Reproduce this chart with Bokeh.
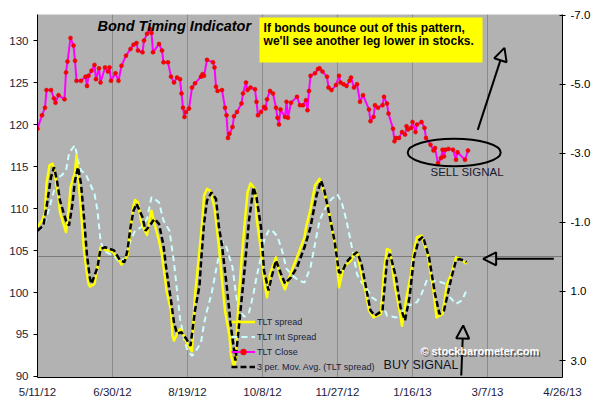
from bokeh.plotting import figure
from bokeh.models import (Range1d, LinearAxis, FixedTicker, PrintfTickFormatter, Grid,
                          Legend, LegendItem, Label, BoxAnnotation, Arrow, NormalHead)
from bokeh.embed import file_html
from bokeh.resources import INLINE

# ---------------- data ----------------
# x values are calendar days after 5/11/12
x_ticks = [0, 50, 100, 150, 200, 250, 300, 350]
x_tick_labels = ["5/11/12", "6/30/12", "8/19/12", "10/8/12", "11/27/12", "1/16/13", "3/7/13", "4/26/13"]
left_ticks = [90, 95, 100, 105, 110, 115, 120, 125, 130]
right_ticks = [-7, -5, -3, -1, 1, 3]

close_day = [0, 3, 5, 6, 9, 11, 12, 14, 18, 19, 20, 22, 24, 25, 26, 29, 32, 33, 34, 36, 38, 39, 41, 42,
             45, 47, 48, 49, 52, 54, 56, 59, 62, 64, 66, 67, 70, 71, 73, 75, 76, 77, 81, 83, 84, 87,
             89, 91, 93, 95, 96, 97, 98, 99, 101, 103, 105, 109, 110, 111, 113, 117, 118, 119, 120,
             123, 125, 126, 127, 128, 130, 131, 133, 136, 137, 139, 140, 142, 145, 146, 147, 149,
             151, 152, 153, 155, 157, 159, 160, 161, 162, 165, 166, 167, 169, 173, 175, 177, 179,
             180, 181, 182, 185, 187, 188, 190, 193, 194, 196, 199, 201, 202, 204, 206, 208, 209,
             211, 213, 215, 217, 221, 222, 224, 225, 227, 230, 231, 233, 234, 237, 238, 239, 241,
             243, 245, 246, 247, 249, 250, 252, 253, 256, 258, 259, 262, 264, 265, 267, 269, 270,
             271, 272, 274, 277, 279, 280, 285, 287]
tlt_close = [119.5, 121.1, 122.0, 124.1, 124.1, 123.1, 122.6, 123.5, 123.0, 126.2, 127.5, 130.3, 129.4,
             127.6, 125.2, 125.2, 125.7, 124.6, 125.8, 126.4, 127.1, 125.4, 126.7, 125.0, 126.8, 126.3,
             126.8, 125.2, 126.1, 125.2, 127.0, 128.2, 129.0, 129.5, 129.7, 128.8, 128.6, 130.0, 130.8,
             131.4, 130.9, 128.6, 129.6, 128.8, 127.4, 127.4, 125.7, 125.0, 125.6, 125.4, 123.7, 122.0,
             120.9, 121.5, 121.9, 124.4, 124.9, 125.7, 126.0, 125.8, 127.7, 127.4, 126.8, 124.5, 124.0,
             124.1, 122.0, 121.1, 118.4, 118.9, 119.7, 121.0, 121.5, 122.5, 123.7, 125.0, 124.1, 124.4,
             124.2, 122.7, 121.1, 121.5, 122.1, 121.9, 123.0, 124.0, 123.7, 122.0, 120.8, 120.0, 121.8,
             120.9, 122.7, 120.8, 122.6, 123.3, 122.3, 122.3, 122.9, 121.7, 124.0, 125.8, 126.1, 126.6,
             126.7, 126.3, 125.7, 124.4, 124.1, 124.7, 125.8, 125.0, 124.8, 124.6, 125.2, 125.6, 124.4,
             124.8, 122.7, 123.5, 121.8, 120.4, 120.9, 122.3, 122.0, 122.3, 123.3, 122.5, 121.3, 119.5,
             118.0, 118.4, 118.4, 119.1, 118.8, 119.8, 119.4, 119.6, 120.3, 119.1, 120.0, 120.3, 119.6,
             118.4, 117.6, 116.9, 117.2, 115.4, 116.0, 117.0, 116.2, 117.0, 117.1, 117.0, 115.8, 116.7,
             115.8, 116.9]

spread_day = [0, 3, 5, 6, 8, 10, 11, 14, 15, 18, 19, 21, 22, 25, 26, 27, 29, 31, 33, 34, 35, 38, 40, 42,
              45, 50, 53, 56, 60, 62, 64, 65, 67, 69, 71, 73, 75, 76, 78, 81, 83, 85, 86, 89, 90, 91,
              93, 95, 96, 98, 100, 102, 103, 104, 105, 108, 110, 111, 113, 115, 118, 121, 123, 125,
              128, 129, 131, 132, 134, 136, 138, 140, 142, 145, 146, 149, 151, 153, 155, 159, 162,
              165, 169, 173, 178, 179, 182, 185, 188, 189, 192, 195, 199, 201, 204, 209, 211, 213,
              215, 219, 221, 224, 229, 231, 233, 235, 238, 241, 243, 246, 249, 251, 253, 256, 260,
              264, 266, 270, 273, 276, 279, 282, 286]
tlt_spread = [-0.88, -1.05, -1.29, -2.12, -2.65, -2.70, -2.55, -1.73, -1.29, -0.86, -0.72, -1.44, -2.02,
              -2.45, -2.94, -2.41, -1.34, -0.19, 0.49, 0.78, 0.86, 0.78, 0.30, -0.28, -0.21, -0.16, 0.01,
              0.22, -0.04, -0.82, -1.49, -1.65, -1.58, -1.05, -0.81, -0.64, -1.15, -1.34, -0.96, -0.47,
              -0.04, 0.60, 0.97, 1.55, 2.28, 2.42, 2.23, 2.08, 2.13, 2.33, 2.52, 2.66, 2.73, 1.84, 1.12,
              -0.19, -1.11, -1.78, -1.97, -1.92, -1.44, -0.28, 0.68, 1.55, 2.28, 2.86, 3.17, 3.00, 1.26,
              0.10, -0.91, -1.87, -2.13, -1.97, -1.15, -0.19, 0.68, 1.17, 0.49, 0.01, 0.63, 0.94, 0.45,
              0.01, -0.57, -0.85, -1.39, -2.07, -2.26, -2.16, -1.73, -1.15, -0.19, 0.88, 0.30, 0.10,
              -0.09, -0.14, 0.30, 1.07, 1.55, 1.75, 1.65, 0.39, -0.23, -0.19, 0.78, 1.46, 1.99, 1.17,
              0.49, -0.19, -0.57, -0.62, -0.09, 0.97, 1.75, 1.65, 0.78, 0.49, 0.01, 0.06, 0.20]

int_day = [0, 4, 8, 11, 14, 16, 19, 21, 23, 25, 27, 29, 32, 35, 38, 40, 42, 44, 48, 52, 55, 59, 62, 65,
           69, 73, 76, 78, 81, 84, 88, 91, 93, 95, 98, 100, 103, 105, 109, 111, 113, 116, 120, 123,
           126, 130, 132, 134, 138, 141, 144, 146, 149, 151, 154, 156, 160, 163, 166, 170, 174, 178,
           182, 185, 188, 191, 196, 200, 203, 206, 210, 213, 215, 219, 223, 226, 230, 233, 239, 242,
           245, 250, 253, 256, 260, 264, 269, 272, 275, 279, 283, 286]
tlt_int_spread = [-0.76, -0.86, -1.44, -1.92, -2.31, -2.36, -2.50, -2.99, -3.13, -3.23, -2.79, -2.50,
                  -2.41, -2.12, -1.83, -1.34, -0.47, -0.19, -0.09, 0.01, 0.20, -0.04, -0.47, -0.76,
                  -0.86, -1.10, -1.73, -1.68, -1.58, -1.05, -0.76, 0.16, 0.97, 1.78, 2.42, 2.71, 2.86,
                  2.76, 2.48, 1.94, 1.55, 1.07, 0.16, -0.47, -0.28, 0.30, 0.97, 1.55, 1.73, 1.61, 1.06,
                  0.59, 0.01, -0.47, -0.76, -0.79, -0.59, -0.19, 0.34, 0.54, 0.68, 0.74, 0.30, -0.38,
                  -1.05, -1.34, -1.68, -1.81, -1.55, -1.05, -0.19, 0.49, 0.68, 0.88, 1.17, 1.26, 1.36,
                  1.70, 1.75, 1.70, 1.46, 1.36, 1.31, 1.07, 0.63, 0.68, 0.73, 0.78, 1.17, 1.36, 1.26,
                  0.97]

ma_day = [0, 4, 6, 9, 11, 13, 15, 19, 21, 23, 25, 27, 29, 31, 33, 35, 36, 40, 42, 45, 51, 55, 58, 60,
          62, 64, 66, 70, 72, 74, 78, 81, 84, 86, 89, 91, 93, 96, 99, 102, 105, 108, 109, 111, 113,
          116, 119, 121, 123, 126, 129, 132, 134, 136, 138, 141, 144, 146, 149, 151, 154, 156, 159,
          162, 165, 169, 173, 178, 182, 186, 189, 191, 194, 198, 201, 203, 206, 210, 213, 216, 219,
          222, 225, 230, 233, 235, 239, 242, 245, 248, 251, 254, 257, 261, 265, 268, 271, 274, 276,
          279, 281, 284, 286]
ma_spread = [-0.76, -0.91, -1.44, -2.31, -2.60, -2.21, -1.63, -1.05, -0.91, -1.44, -2.21, -2.60, -2.12,
             -1.15, -0.04, 0.63, 0.78, 0.30, -0.23, -0.28, -0.19, 0.10, 0.15, -0.19, -0.86, -1.34, -1.54,
             -1.15, -0.76, -0.86, -1.10, -0.96, -0.33, 0.39, 1.26, 1.90, 2.22, 2.18, 2.36, 2.57, 1.55,
             0.83, 0.16, -0.96, -1.63, -1.87, -1.68, -0.86, -0.33, 0.78, 2.04, 3.00, 2.13, 1.26, 0.39,
             -1.05, -2.02, -1.73, -0.86, 0.39, 0.97, 0.59, 0.10, 0.45, 0.77, 0.59, 0.30, -0.28, -0.86,
             -1.78, -2.21, -1.97, -1.34, -0.47, 0.45, 0.44, 0.15, -0.04, -0.14, 0.20, 0.88, 1.55, 1.70,
             1.55, 0.10, -0.09, 0.59, 1.46, 1.84, 1.17, 0.01, -0.47, -0.59, 0.01, 1.07, 1.65, 1.55, 0.97,
             0.59, 0.10, 0.06, 0.10, 0.15]

# ---------------- figure ----------------
FONT = "Liberation Sans"
p = figure(width=593, height=404, output_backend="svg", toolbar_location=None,
           x_range=Range1d(0, 350), y_range=Range1d(89.88, 133.1),
           min_border_left=37, min_border_right=30, min_border_top=14, min_border_bottom=27)
p.extra_y_ranges = {"spread": Range1d(start=3.49, end=-7.02)}
p.background_fill_color = "#b2b2b2"
p.border_fill_color = "white"
p.outline_line_color = None

# axes
p.xaxis.ticker = FixedTicker(ticks=x_ticks)
p.xaxis.major_label_overrides = dict(zip(x_ticks, x_tick_labels))
p.xaxis.major_tick_out = 0
p.xaxis.major_tick_in = 0
p.xaxis.minor_tick_out = 0
p.xaxis.minor_tick_in = 0
p.xaxis.major_label_standoff = 8
p.yaxis.ticker = FixedTicker(ticks=left_ticks)
p.yaxis.major_tick_out = 4
p.yaxis.major_tick_in = 0
p.yaxis.minor_tick_out = 0
p.yaxis.minor_tick_in = 0
p.yaxis.major_label_standoff = 5
for ax in (p.xaxis[0], p.yaxis[0]):
    ax.axis_line_color = "black"
    ax.major_tick_line_color = "black"
    ax.major_label_text_font = FONT
    ax.major_label_text_font_size = "11.5px"
    ax.major_label_text_color = "#1c1c3a"

raxis = LinearAxis(y_range_name="spread", ticker=FixedTicker(ticks=right_ticks),
                   formatter=PrintfTickFormatter(format="%.1f"))
raxis.major_tick_in = 3
raxis.major_tick_out = 3
raxis.minor_tick_in = 0
raxis.minor_tick_out = 0
raxis.major_label_standoff = 5
raxis.axis_line_color = "black"
raxis.major_label_text_font = FONT
raxis.major_label_text_font_size = "11.5px"
raxis.major_label_text_color = "black"
p.add_layout(raxis, "right")

# grids
p.xgrid.ticker = FixedTicker(ticks=x_ticks)
p.xgrid.grid_line_color = "#8a8a8a"
p.ygrid.visible = False
zero_grid = Grid(dimension=1, ticker=FixedTicker(ticks=[0]), y_range_name="spread",
                 grid_line_color="#7a7a7a", grid_line_width=1)
p.add_layout(zero_grid)

# ---------------- series ----------------
r_int = p.line(int_day, tlt_int_spread, y_range_name="spread", line_color="#ccffff",
               line_width=2, line_dash="6 4")
r_spread = p.line(spread_day, tlt_spread, y_range_name="spread", line_color="#ffff00",
                  line_width=2.5, line_join="round")
r_ma = p.line(ma_day, ma_spread, y_range_name="spread", line_color="black",
              line_width=2.5, line_dash="6 3")
r_close = p.line(close_day, tlt_close, line_color="#ff00ff", line_width=2)
r_close_pts = p.scatter(close_day, tlt_close, size=4, fill_color="#ff0000", line_color="#dd0000",
                        line_width=0.5)

legend = Legend(items=[
    LegendItem(label="TLT spread", renderers=[r_spread]),
    LegendItem(label="TLT Int Spread", renderers=[r_int]),
    LegendItem(label="TLT Close", renderers=[r_close, r_close_pts]),
    LegendItem(label="3 per. Mov. Avg. (TLT spread)", renderers=[r_ma]),
], location=(194, 3), background_fill_alpha=0, border_line_alpha=0, padding=0, margin=0,
    spacing=0, glyph_width=24, glyph_height=15, label_height=15, label_standoff=2,
    label_text_font=FONT, label_text_font_size="9px", label_text_color="#1c1c3a")
p.add_layout(legend)

# ---------------- annotations ----------------
p.add_layout(Label(x=40, y=131.79, text="Bond Timing Indicator", text_font=FONT,
                   text_font_style="bold italic", text_font_size="14.5px", text_baseline="middle",
                   text_color="black"))
p.add_layout(BoxAnnotation(left=148, right=296.7, bottom=127.38, top=132.74,
                           fill_color="#ffff00", fill_alpha=1.0, line_alpha=0))
p.add_layout(Label(x=150.7, y=131.55, text="If bonds bounce out of this pattern,", text_font=FONT,
                   text_font_style="bold", text_font_size="12px", text_baseline="middle",
                   text_color="black"))
p.add_layout(Label(x=150.7, y=129.9, text="we'll see another leg lower in stocks.", text_font=FONT,
                   text_font_style="bold", text_font_size="12px", text_baseline="middle",
                   text_color="black"))

p.ellipse(x=[277.8], y=[116.67], width=62, height=3.27, fill_alpha=0, line_color="black",
          line_width=2)
p.add_layout(Label(x=262, y=114.35, text="SELL  SIGNAL", text_font=FONT,
                   text_font_size="11.5px", text_baseline="middle", text_color="#1a1a33"))
p.add_layout(Label(x=230.7, y=91.37, text="BUY  SIGNAL", text_font=FONT,
                   text_font_size="12.5px", text_baseline="middle", text_color="#111122"))

head = dict(size=13, fill_alpha=0, line_color="black", line_width=2)
p.add_layout(Arrow(end=NormalHead(**head), x_start=293.5, y_start=119.37, x_end=311.3, y_end=129.13,
                   line_width=2, line_color="black"))
p.add_layout(Arrow(end=NormalHead(**head), x_start=344.2, y_start=104.01, x_end=297.1, y_end=104.01,
                   line_width=2, line_color="black"))
p.add_layout(Arrow(end=NormalHead(**head), x_start=282.5, y_start=90.12, x_end=283.8, y_end=96.07,
                   line_width=2, line_color="black"))

p.add_layout(Label(x=255.3, y=92.98, x_offset=1.5, y_offset=-1.5, text="\u00a9 stockbarometer.com",
                   text_font=FONT, text_font_style="bold", text_font_size="11px",
                   text_baseline="middle", text_color="#333333", text_alpha=0.7))
p.add_layout(Label(x=255.3, y=92.98, text="\u00a9 stockbarometer.com", text_font=FONT,
                   text_font_style="bold", text_font_size="11px", text_baseline="middle",
                   text_color="white"))

open("out.html", "w").write(file_html(p, INLINE))
